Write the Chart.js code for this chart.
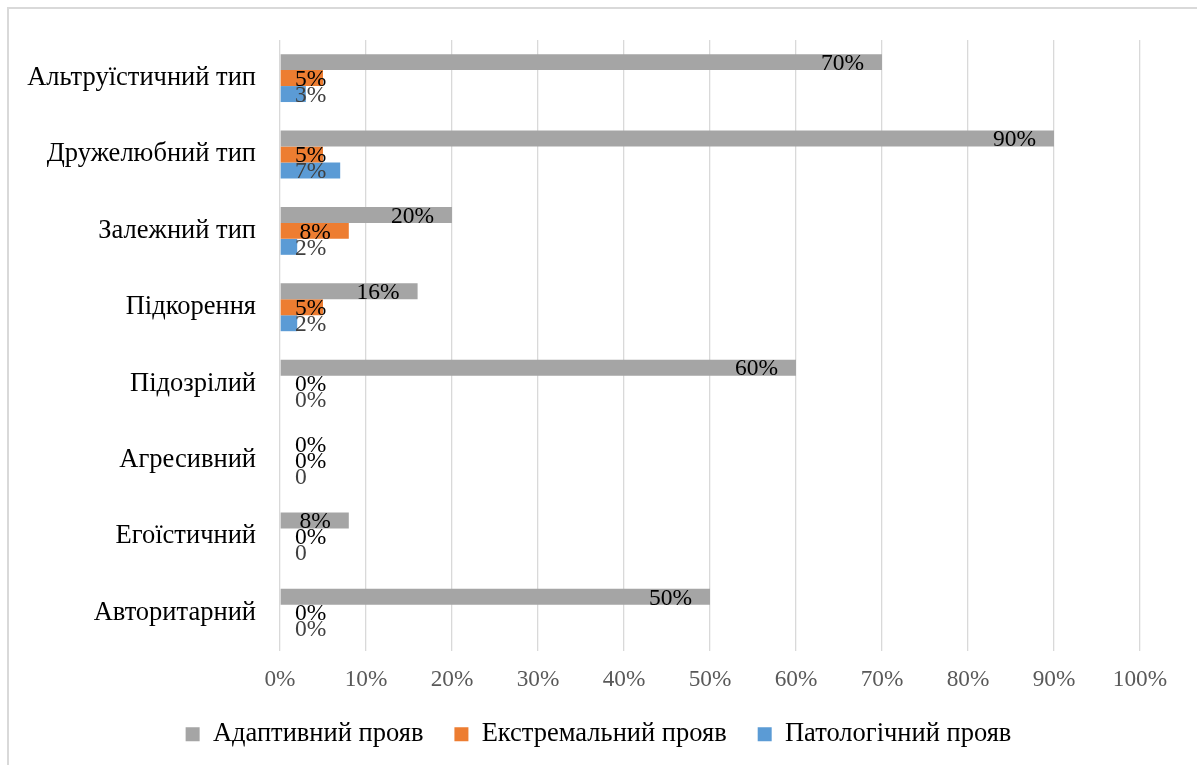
<!DOCTYPE html>
<html lang="uk">
<head>
<meta charset="UTF-8">
<title>Типи міжособистісних стосунків</title>
<script src="https://cdn.jsdelivr.net/npm/chart.js"></script>
<style>
  html, body { margin: 0; padding: 0; background: #fff; }
  .wrap { position: relative; width: 1197px; height: 765px; }
  /* frame around the chart: only top and left edges fall inside the page */
  .frame {
    position: absolute; left: 7px; top: 7px; right: -10px; bottom: -10px;
    border-top: 2px solid #d9d9d9; border-left: 2px solid #d9d9d9;
    pointer-events: none;
  }
  canvas { position: absolute; left: 0; top: 0; }
</style>
</head>
<body>
<div class="wrap">
  <canvas id="chart" width="1197" height="765"></canvas>
  <div class="frame"></div>
</div>
<script>
  const categories = [
    "Альтруїстичний тип",
    "Дружелюбний тип",
    "Залежний тип",
    "Підкорення",
    "Підозрілий",
    "Агресивний",
    "Егоїстичний",
    "Авторитарний"
  ];
  const adaptive = [70, 90, 20, 16, 60, 0, 8, 50];
  const extreme = [5, 5, 8, 5, 0, 0, 0, 0];
  const pathological = [3, 7, 2, 2, 0, 0, 0, 0];
  // cells of the pathological series that print as a bare "0"
  const bareZero = ["Агресивний", "Егоїстичний"];
  const xTicks = [0, 10, 20, 30, 40, 50, 60, 70, 80, 90, 100];

  const serif = "'Liberation Serif', 'Times New Roman', serif";

  // value labels: inside the bar end, never closer than ~15px to the axis
  const valueLabels = {
    id: "valueLabels",
    afterDatasetsDraw(chart) {
      const ctx = chart.ctx;
      const left = chart.scales.x.getPixelForValue(0) + 15;
      ctx.save();
      ctx.font = "23.5px " + serif;
      ctx.textBaseline = "middle";
      ctx.textAlign = "left";
      chart.data.datasets.forEach((ds, di) => {
        const meta = chart.getDatasetMeta(di);
        meta.data.forEach((bar, i) => {
          const v = ds.data[i];
          let txt = v + "%";
          if (di === 2 && v === 0 && bareZero.includes(categories[i])) txt = "0";
          const w = ctx.measureText(txt).width;
          const x = Math.max(bar.x - 18 - w, left);
          ctx.fillStyle = ds.labelColor;
          ctx.fillText(txt, x, bar.y + 1.5);
        });
      });
      ctx.restore();
    }
  };

  new Chart(document.getElementById("chart"), {
    type: "bar",
    data: {
      labels: categories,
      datasets: [
        { label: "Адаптивний прояв", data: adaptive, backgroundColor: "#a5a5a5", labelColor: "#000" },
        { label: "Екстремальний прояв", data: extreme, backgroundColor: "#ed7d31", labelColor: "#000" },
        { label: "Патологічний прояв", data: pathological, backgroundColor: "#5b9bd5", labelColor: "#404040" }
      ]
    },
    options: {
      indexAxis: "y",
      responsive: false,
      animation: false,
      categoryPercentage: 0.627,
      barPercentage: 1,
      layout: { padding: { top: 38, right: 0, left: 0, bottom: 7.5 } },
      scales: {
        x: {
          min: 0,
          max: 100,
          afterBuildTicks: (scale) => { scale.ticks = xTicks.map(v => ({ value: v })); },
          afterFit: (scale) => { scale.height = 39; },
          grid: { color: "#d9d9d9", lineWidth: 1.3, drawTicks: false },
          border: { display: false },
          ticks: {
            padding: 15,
            color: "#595959",
            font: { family: serif, size: 23.3 },
            callback: (v) => v + "%"
          }
        },
        y: {
          afterFit: (scale) => { scale.width = 280; },
          grid: { display: false, drawTicks: false },
          border: { display: false },
          ticks: {
            padding: 24,
            color: "#000",
            font: { family: serif, size: 26.5 }
          }
        },
        // empty strip on the right, keeps the plot clear of the edge
        margin: {
          type: "category",
          position: "right",
          afterFit: (scale) => { scale.width = 57; },
          grid: { display: false, drawTicks: false },
          border: { display: false },
          ticks: { display: false }
        }
      },
      plugins: {
        legend: {
          position: "bottom",
          labels: {
            boxWidth: 14,
            boxHeight: 14,
            padding: 31,
            color: "#000",
            font: { family: serif, size: 26.5 }
          }
        },
        tooltip: { enabled: false }
      }
    },
    plugins: [valueLabels]
  });
</script>
</body>
</html>
